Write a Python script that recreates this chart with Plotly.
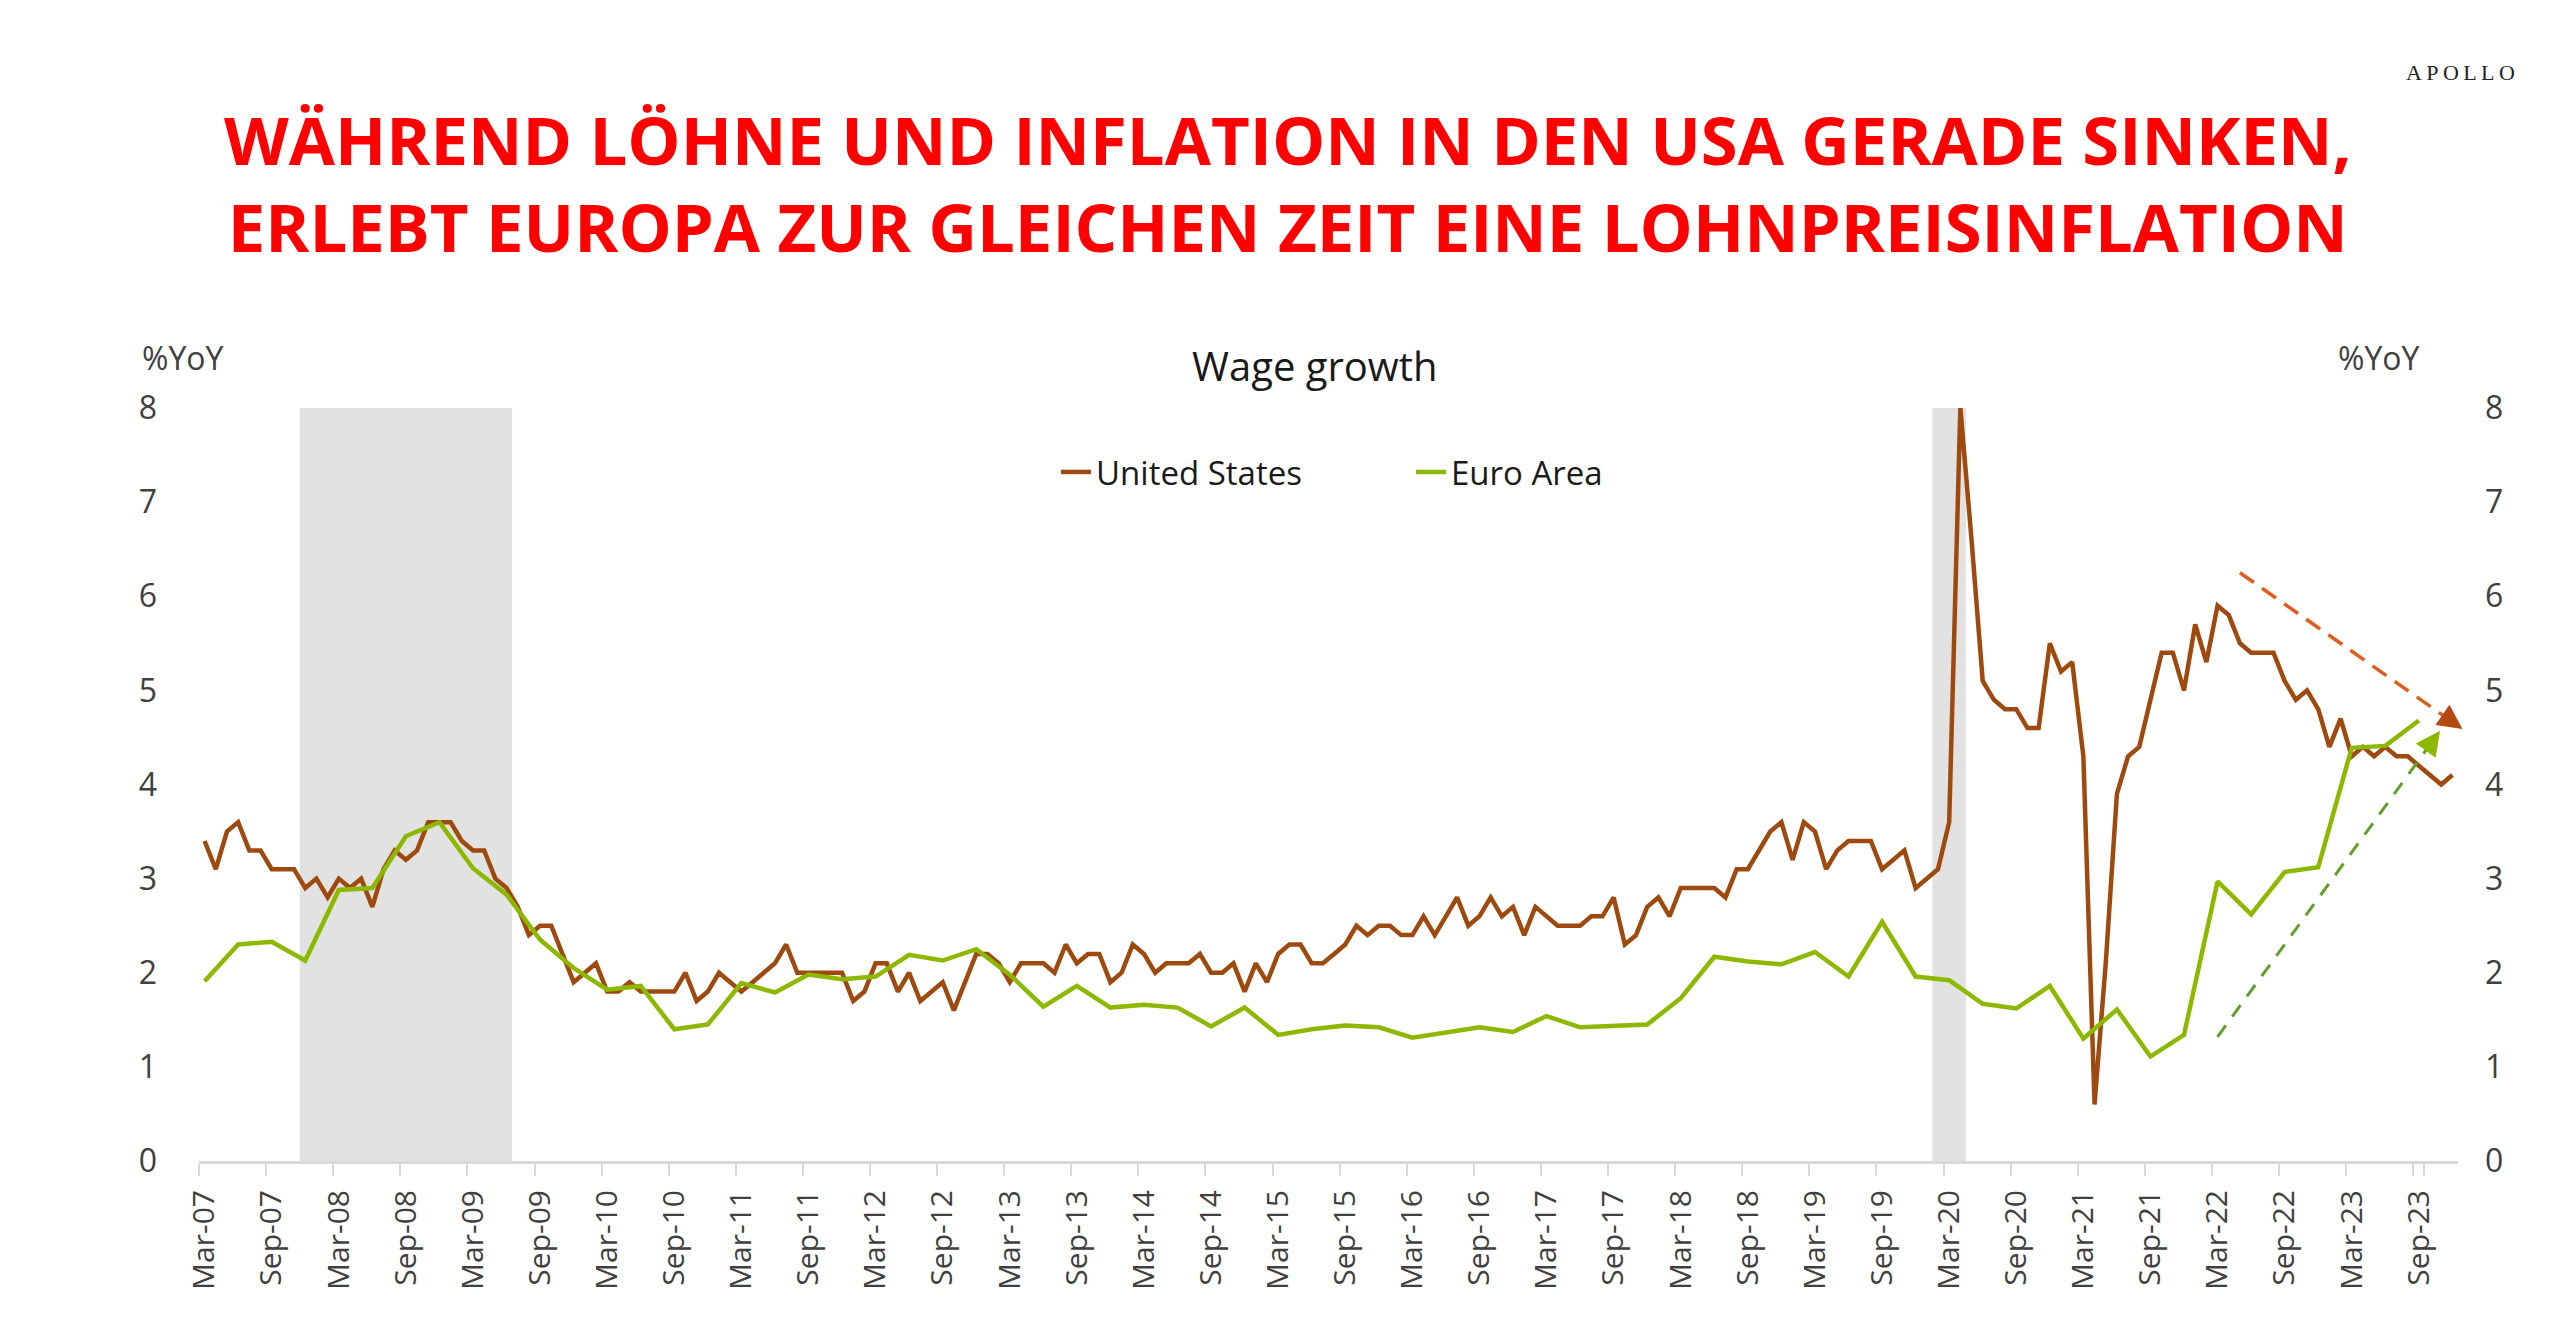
import pandas as pd
import plotly.graph_objects as go

# ---------------- data ----------------
months = list(pd.date_range("2007-03-01", periods=202, freq="MS").strftime("%b-%y"))

us_wage = [
    3.4, 3.1, 3.5, 3.6, 3.3, 3.3, 3.1, 3.1, 3.1, 2.9,             # Mar-07 .. Dec-07
    3.0, 2.8, 3.0, 2.9, 3.0, 2.7, 3.1, 3.3, 3.2, 3.3, 3.6, 3.6,   # 2008
    3.6, 3.4, 3.3, 3.3, 3.0, 2.9, 2.7, 2.4, 2.5, 2.5, 2.2, 1.9,   # 2009
    2.0, 2.1, 1.8, 1.8, 1.9, 1.8, 1.8, 1.8, 1.8, 2.0, 1.7, 1.8,   # 2010
    2.0, 1.9, 1.8, 1.9, 2.0, 2.1, 2.3, 2.0, 2.0, 2.0, 2.0, 2.0,   # 2011
    1.7, 1.8, 2.1, 2.1, 1.8, 2.0, 1.7, 1.8, 1.9, 1.6, 1.9, 2.2,   # 2012
    2.2, 2.1, 1.9, 2.1, 2.1, 2.1, 2.0, 2.3, 2.1, 2.2, 2.2, 1.9,   # 2013
    2.0, 2.3, 2.2, 2.0, 2.1, 2.1, 2.1, 2.2, 2.0, 2.0, 2.1, 1.8,   # 2014
    2.1, 1.9, 2.2, 2.3, 2.3, 2.1, 2.1, 2.2, 2.3, 2.5, 2.4, 2.5,   # 2015
    2.5, 2.4, 2.4, 2.6, 2.4, 2.6, 2.8, 2.5, 2.6, 2.8, 2.6, 2.7,   # 2016
    2.4, 2.7, 2.6, 2.5, 2.5, 2.5, 2.6, 2.6, 2.8, 2.3, 2.4, 2.7,   # 2017
    2.8, 2.6, 2.9, 2.9, 2.9, 2.9, 2.8, 3.1, 3.1, 3.3, 3.5, 3.6,   # 2018
    3.2, 3.6, 3.5, 3.1, 3.3, 3.4, 3.4, 3.4, 3.1, 3.2, 3.3, 2.9,   # 2019
    3.0, 3.1, 3.6, 8.0, 6.6, 5.1, 4.9, 4.8, 4.8, 4.6, 4.6, 5.5,   # 2020
    5.2, 5.3, 4.3, 0.6, 2.1, 3.9, 4.3, 4.4, 4.9, 5.4, 5.4, 5.0,   # 2021
    5.7, 5.3, 5.9, 5.8, 5.5, 5.4, 5.4, 5.4, 5.1, 4.9, 5.0, 4.8,   # 2022
    4.4, 4.7, 4.3, 4.4, 4.3, 4.4, 4.3, 4.3, 4.2, 4.1, 4.0, 4.1,   # 2023
]

ea_months = months[::3]  # quarterly: Mar, Jun, Sep, Dec
ea_wage = [
    1.91, 2.30, 2.33, 2.13,
    2.88, 2.90, 3.45, 3.60,
    3.11, 2.83, 2.35, 2.05,
    1.82, 1.86, 1.40, 1.45,
    1.89, 1.79, 1.98, 1.93,
    1.96, 2.19, 2.13, 2.25,
    1.98, 1.64, 1.86, 1.63,
    1.66, 1.63, 1.43, 1.63,
    1.34, 1.40, 1.44, 1.42,
    1.31, 1.36, 1.42, 1.37,
    1.54, 1.42, 1.44, 1.45,
    1.73, 2.17, 2.12, 2.09,
    2.22, 1.96, 2.54, 1.96,
    1.92, 1.67, 1.62, 1.86,
    1.30, 1.61, 1.11, 1.34,
    2.97, 2.62, 3.07, 3.12,
    4.39, 4.41, 4.68,
]
ea_months = ea_months[:len(ea_wage)]

tick_labels = months[::6]
y_ticks = [0, 1, 2, 3, 4, 5, 6, 7, 8]
recessions = [("Dec-07", "Jun-09"), ("Feb-20", "Apr-20")]

# trend arrows (start label, start value, end label, end value)
us_trend = ("May-22", 6.25, "Dec-23", 4.59)
ea_trend = ("Mar-22", 1.32, "Oct-23", 4.57)

title_lines = ["WÄHREND LÖHNE UND INFLATION IN DEN USA GERADE SINKEN,",
               "ERLEBT EUROPA ZUR GLEICHEN ZEIT EINE LOHNPREISINFLATION"]

US_COLOR = "#9E4A0E"
EA_COLOR = "#8DB800"
TEXT = "#404040"
FONT = "Open Sans"

# ---------------- figure ----------------
fig = go.Figure()
fig.add_trace(go.Scatter(x=months, y=us_wage, name="United States",
                         mode="lines", line=dict(color=US_COLOR, width=4.5), yaxis="y"))
fig.add_trace(go.Scatter(x=ea_months, y=ea_wage, name="Euro Area",
                         mode="lines", line=dict(color=EA_COLOR, width=4.5), yaxis="y2",
                         legend="legend2"))

idx = {m: i for i, m in enumerate(months)}
shapes = []
for a, b in recessions:
    shapes.append(dict(type="rect", xref="x", yref="y", x0=idx[a] - 0.5, x1=idx[b] + 0.5,
                       y0=0, y1=8, fillcolor="#E2E2E2", line=dict(width=0), layer="below"))

def trend(tr, dash_color, head_color, dash, width):
    x0, y0, x1, y1 = idx[tr[0]], tr[1], idx[tr[2]] + 0.9, tr[3]
    f = 0.955
    xe, ye = x0 + (x1 - x0) * f, y0 + (y1 - y0) * f
    shapes.append(dict(type="line", xref="x", yref="y", x0=x0, y0=y0, x1=xe, y1=ye,
                       line=dict(color=dash_color, width=width, dash=dash)))
    xb, yb = x0 + (x1 - x0) * 0.93, y0 + (y1 - y0) * 0.93
    return dict(x=x1, y=y1, ax=xb, ay=yb, xref="x", yref="y", axref="x", ayref="y",
                text="", showarrow=True, arrowhead=2, arrowsize=1.4, arrowwidth=3.5,
                arrowcolor=head_color)

ann = []
ann.append(trend(us_trend, "#DD5E1C", "#B44A12", "17px,10px", 3.5))
ann.append(trend(ea_trend, "#5F9F2A", "#8DB800", "14px,11px", 3))

TITLE_FONT = dict(family=FONT, size=67, color="#FF0000", weight="bold")
ann += [
    dict(text="<br>".join(title_lines), xref="paper", yref="paper",
         x=0.482, y=1.299, xanchor="center", yanchor="middle", showarrow=False,
         font=TITLE_FONT, align="center"),
    dict(text="A\u2009P\u2009O\u2009L\u2009L\u2009O", xref="paper", yref="paper", x=1.0013, y=1.446,
         xanchor="center", yanchor="middle", showarrow=False,
         font=dict(family="Liberation Serif", size=22, color="#222222")),
    dict(text="Wage growth", xref="paper", yref="paper", x=0.494, y=1.056,
         xanchor="center", yanchor="middle", showarrow=False,
         font=dict(family=FONT, size=40, color="#1a1a1a")),
    dict(text="%YoY", xref="paper", yref="paper", x=-0.007, y=1.067,
         xanchor="center", yanchor="middle", showarrow=False,
         font=dict(family=FONT, size=32, color=TEXT)),
    dict(text="%YoY", xref="paper", yref="paper", x=0.965, y=1.067,
         xanchor="center", yanchor="middle", showarrow=False,
         font=dict(family=FONT, size=32, color=TEXT)),
]

yax = dict(range=[0, 8], tickvals=y_ticks, showgrid=False, zeroline=False, showline=False,
           ticks="", tickfont=dict(family=FONT, size=32, color=TEXT), fixedrange=True)

fig.update_layout(
    width=2560, height=1338,
    margin=dict(l=191, r=110, t=400, b=185),
    paper_bgcolor="white", plot_bgcolor="white",
    font=dict(family=FONT, color=TEXT),
    showlegend=True,
    legend=dict(orientation="h", x=(1048 - 191) / 2259, y=0.915, xanchor="left", yanchor="middle",
                font=dict(family=FONT, size=33, color="#1a1a1a"), bgcolor="rgba(0,0,0,0)"),
    legend2=dict(orientation="h", x=(1403 - 191) / 2259, y=0.915, xanchor="left", yanchor="middle",
                 font=dict(family=FONT, size=33, color="#1a1a1a"), bgcolor="rgba(0,0,0,0)"),
    xaxis=dict(type="category", categoryorder="array", categoryarray=months,
               range=[-0.5, len(months) - 0.5], tickmode="array", tickvals=tick_labels,
               ticktext=tick_labels, tickangle=-90, ticks="outside", tickson="boundaries",
               ticklen=12, tickwidth=2, tickcolor="#D9D9D9", showline=True, linecolor="#D9D9D9",
               linewidth=3, showgrid=False, zeroline=False,
               tickfont=dict(family=FONT, size=30, color=TEXT), ticklabelstandoff=14),
    yaxis=dict(yax, ticklabelstandoff=41),
    yaxis2=dict(yax, overlaying="y", side="right", anchor="x", ticklabelstandoff=26),
    shapes=shapes,
    annotations=ann,
)

fig.write_html("out.html")
